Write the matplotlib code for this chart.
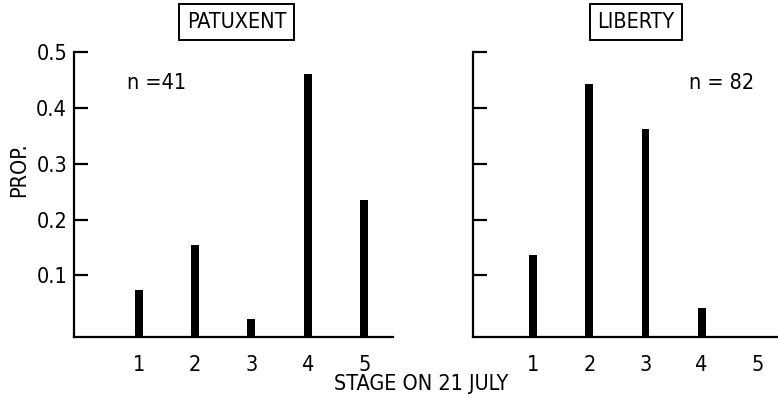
import matplotlib
matplotlib.use('Agg')
import matplotlib.pyplot as plt

# Proportion of individuals at each developmental stage on 21 July
stages = [1, 2, 3, 4, 5]
stage_labels = ['1', '2', '3', '4', '5']
prop_patuxent = [0.073, 0.155, 0.022, 0.46, 0.235]
prop_liberty = [0.137, 0.442, 0.363, 0.042, 0.0]
y_ticks = [0.1, 0.2, 0.3, 0.4, 0.5]
y_tick_labels = ['0.1', '0.2', '0.3', '0.4', '0.5']

plt.rcParams['font.family'] = ['DejaVu Sans']
plt.rcParams['font.stretch'] = 'condensed'
plt.rcParams['font.size'] = 15.5

fig = plt.figure(figsize=(7.78, 3.98), dpi=100)
ax1 = fig.add_axes([0.0951, 0.153, 0.4100, 0.716])
ax2 = fig.add_axes([0.6080, 0.153, 0.3920, 0.716])

y_bottom = -0.0108

panels = [
    (ax1, prop_patuxent, 'PATUXENT', 'n =41', (-0.145, 5.51), 0.51, 0.26),
    (ax2, prop_liberty, 'LIBERTY', 'n = 82', (-0.07, 5.36), 0.534, 0.816),
]

for ax, props, title, n_text, xlim, title_x, n_x in panels:
    # bars rise from the drawn baseline up to their value
    heights = [p - y_bottom if p > 0 else 0 for p in props]
    ax.bar(stages, heights, bottom=y_bottom, width=0.14, color='black')
    ax.set_xlim(*xlim)
    ax.set_ylim(y_bottom, 0.5)
    ax.spines['top'].set_visible(False)
    ax.spines['right'].set_visible(False)
    for side in ['left', 'bottom']:
        ax.spines[side].set_linewidth(1.6)
    ax.set_xticks(stages)
    ax.set_xticklabels(stage_labels)
    ax.tick_params(axis='x', length=0, pad=13)
    ax.set_yticks(y_ticks)
    ax.tick_params(axis='y', direction='in', length=10, width=1.6, pad=5)
    ax.text(title_x, 1.0 + 30 / 285, title, transform=ax.transAxes,
            ha='center', va='center',
            bbox=dict(boxstyle='square,pad=0.36', fc='white', ec='black', lw=1.4))
    ax.text(n_x, 0.89, n_text, transform=ax.transAxes, ha='center', va='center')

ax1.set_yticklabels(y_tick_labels)
ax2.set_yticklabels([])

fig.text(19 / 778, 1 - 170 / 398, 'PROP.', rotation=90, ha='center', va='center')
fig.text(421 / 778, 1 - 384 / 398, 'STAGE ON 21 JULY', ha='center', va='center')

fig.savefig('out.png', dpi=100)
